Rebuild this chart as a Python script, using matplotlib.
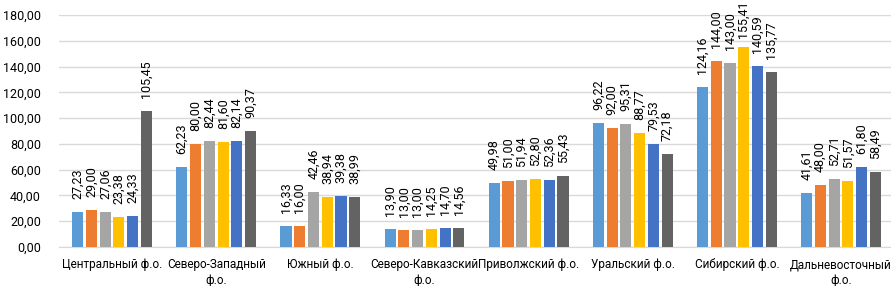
import matplotlib
matplotlib.use("Agg")
import matplotlib.pyplot as plt
import numpy as np

categories = ["Центральный ф.о.", "Северо-Западный\nф.о.", "Южный ф.о.",
              "Северо-Кавказский\nф.о.", "Приволжский ф.о.", "Уральский ф.о.",
              "Сибирский ф.о.", "Дальневосточный\nф.о."]
s1 = [27.23, 62.23, 16.33, 13.90, 49.98, 96.22, 124.16, 41.61]
s2 = [29.00, 80.00, 16.00, 13.00, 51.00, 92.00, 144.00, 48.00]
s3 = [27.06, 82.44, 42.46, 13.00, 51.94, 95.31, 143.00, 52.71]
s4 = [23.38, 81.60, 38.94, 14.25, 52.80, 88.77, 155.41, 51.57]
s5 = [24.33, 82.14, 39.38, 14.70, 52.36, 79.53, 140.59, 61.80]
s6 = [105.45, 90.37, 38.99, 14.56, 55.43, 72.18, 135.77, 58.49]
series = [s1, s2, s3, s4, s5, s6]
colors = ["#5B9BD5", "#ED7D31", "#A5A5A5", "#FFC000", "#4472C4", "#636363"]
yticks = [0, 20, 40, 60, 80, 100, 120, 140, 160, 180]

plt.rcParams['font.family'] = ['Roboto', 'DejaVu Sans']
DPI = 100
fig = plt.figure(figsize=(8.91, 2.86), dpi=DPI)
ax = fig.add_axes([59/891, 39/286, 1 - 59/891, 232/286])

x = np.arange(len(categories))
n = len(series)
slot = 0.132
bw = 0.106
off_pt = 13 * 72 / DPI
labels = []
for i, (vals, c) in enumerate(zip(series, colors)):
    pos = x + (i - (n - 1) / 2) * slot
    ax.bar(pos, vals, width=bw, color=c, zorder=3)
    for p, v in zip(pos, vals):
        t = ax.annotate(f"{v:.2f}".replace(".", ","), (p, v), xytext=(0, off_pt),
                        textcoords="offset points", rotation=90,
                        ha="center", va="bottom", fontsize=9, color="#000000", zorder=4)
        labels.append(t)

ax.set_xlim(-0.51, len(categories) - 0.52)
ax.set_ylim(0, 180)
ax.set_yticks(yticks)
ax.set_yticklabels([f"{t:.2f}".replace(".", ",") for t in yticks], fontsize=9)
ax.set_xticks(x)
ax.set_xticklabels(categories, fontsize=8.5, linespacing=1.3)
ax.tick_params(axis="y", length=0, pad=13)
ax.tick_params(axis="x", length=0, pad=8)
ax.grid(axis="y", color="#D9D9D9", linewidth=1, zorder=0)
for sp in ["top", "right", "left"]:
    ax.spines[sp].set_visible(False)
ax.spines["bottom"].set_color("#D9D9D9")
ax.spines["bottom"].set_zorder(0)

# keep labels inside the figure, as the source chart does
fig.canvas.draw()
r = fig.canvas.get_renderer()
H = fig.get_figheight() * DPI
for t in labels:
    bb = t.get_window_extent(r)
    if bb.y1 > H - 1:
        t.xyann = (0, off_pt - (bb.y1 - (H - 1)) * 72 / DPI)

fig.savefig("out.png", dpi=DPI)
